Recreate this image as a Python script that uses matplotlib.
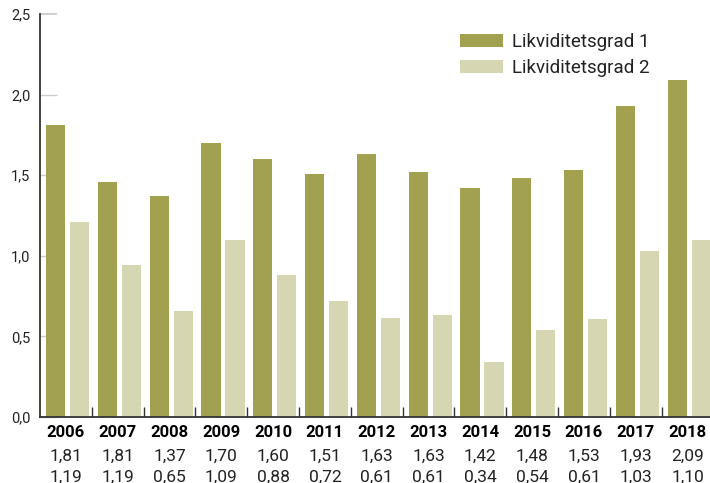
import numpy as np
import matplotlib as mpl
mpl.use('Agg')
import matplotlib.pyplot as plt

# data
years = ['2006', '2007', '2008', '2009', '2010', '2011', '2012',
         '2013', '2014', '2015', '2016', '2017', '2018']
grad1 = [1.81, 1.46, 1.37, 1.70, 1.60, 1.51, 1.63, 1.52, 1.42, 1.48, 1.53, 1.93, 2.09]
grad2 = [1.21, 0.94, 0.66, 1.10, 0.88, 0.72, 0.615, 0.63, 0.34, 0.54, 0.61, 1.03, 1.10]
# printed rows under the chart (as written in the source)
row1 = ['1,81', '1,81', '1,37', '1,70', '1,60', '1,51', '1,63',
        '1,63', '1,42', '1,48', '1,53', '1,93', '2,09']
row2 = ['1,19', '1,19', '0,65', '1,09', '0,88', '0,72', '0,61',
        '0,61', '0,34', '0,54', '0,61', '1,03', '1,10']
series_names = ['Likviditetsgrad 1', 'Likviditetsgrad 2']
yticks = [0.0, 0.5, 1.0, 1.5, 2.0, 2.5]

plt.rcParams['font.family'] = ['Roboto', 'DejaVu Sans']

col1 = '#a2a150'
col2 = '#d7d6b2'
dark = '#222222'

W, H = 710, 483
fig = plt.figure(figsize=(W / 100, H / 100), dpi=100)
ax = fig.add_axes([40 / W, (H - 417) / H, (710 - 40) / W, (417 - 14) / H])

x = np.arange(len(years))
bw = 0.37
ax.bar(x - 0.20, grad1, width=bw, color=col1, label=series_names[0], zorder=2)
ax.bar(x + 0.263, grad2, width=bw, color=col2, label=series_names[1], zorder=2)

ax.set_xlim(-0.5, len(years) - 0.5 - 3.4 / 51.8)
ax.set_ylim(0, 2.5)

for side in ['top', 'right']:
    ax.spines[side].set_visible(False)
ax.spines['left'].set_color('#333333')
ax.spines['left'].set_linewidth(1.3)
ax.spines['bottom'].set_color('#333333')
ax.spines['bottom'].set_linewidth(1.3)
ax.spines['bottom'].set_zorder(3)

# y ticks: short inward lines
ax.set_yticks(yticks)
ax.set_yticklabels([f'{v:.1f}'.replace('.', ',') for v in yticks], fontsize=10.5, color=dark)
ax.tick_params(axis='y', direction='in', length=12, width=1, color='#cccccc', pad=7)
ax.yaxis.get_major_ticks()[-1].tick1line.set_color('#333333')
ax.yaxis.get_major_ticks()[-1].tick1line.set_markeredgewidth(1.3)

# x: group separators as minor ticks, years as labels
ax.set_xticks(x)
ax.set_xticklabels(years, fontsize=12, fontweight='bold', color='black')
ax.tick_params(axis='x', which='major', length=0, pad=6)
ax.set_xticks(x[:-1] + 0.5, minor=True)
ax.tick_params(axis='x', which='minor', direction='in', length=7, width=1, color='#333333')

for i in range(len(years)):
    ax.text(x[i], -0.097, row1[i], transform=ax.get_xaxis_transform(),
            ha='center', va='center', fontsize=12.5, color=dark)
    ax.text(x[i], -0.149, row2[i], transform=ax.get_xaxis_transform(),
            ha='center', va='center', fontsize=12.5, color=dark)

leg = ax.legend(loc='upper left', bbox_to_anchor=(0.607, 0.985), frameon=False,
                fontsize=13.5, handlelength=2.3, handleheight=0.7,
                handletextpad=0.5, labelspacing=0.4, borderaxespad=0.3)
for t in leg.get_texts():
    t.set_color(dark)

fig.savefig('out.png', dpi=100)
